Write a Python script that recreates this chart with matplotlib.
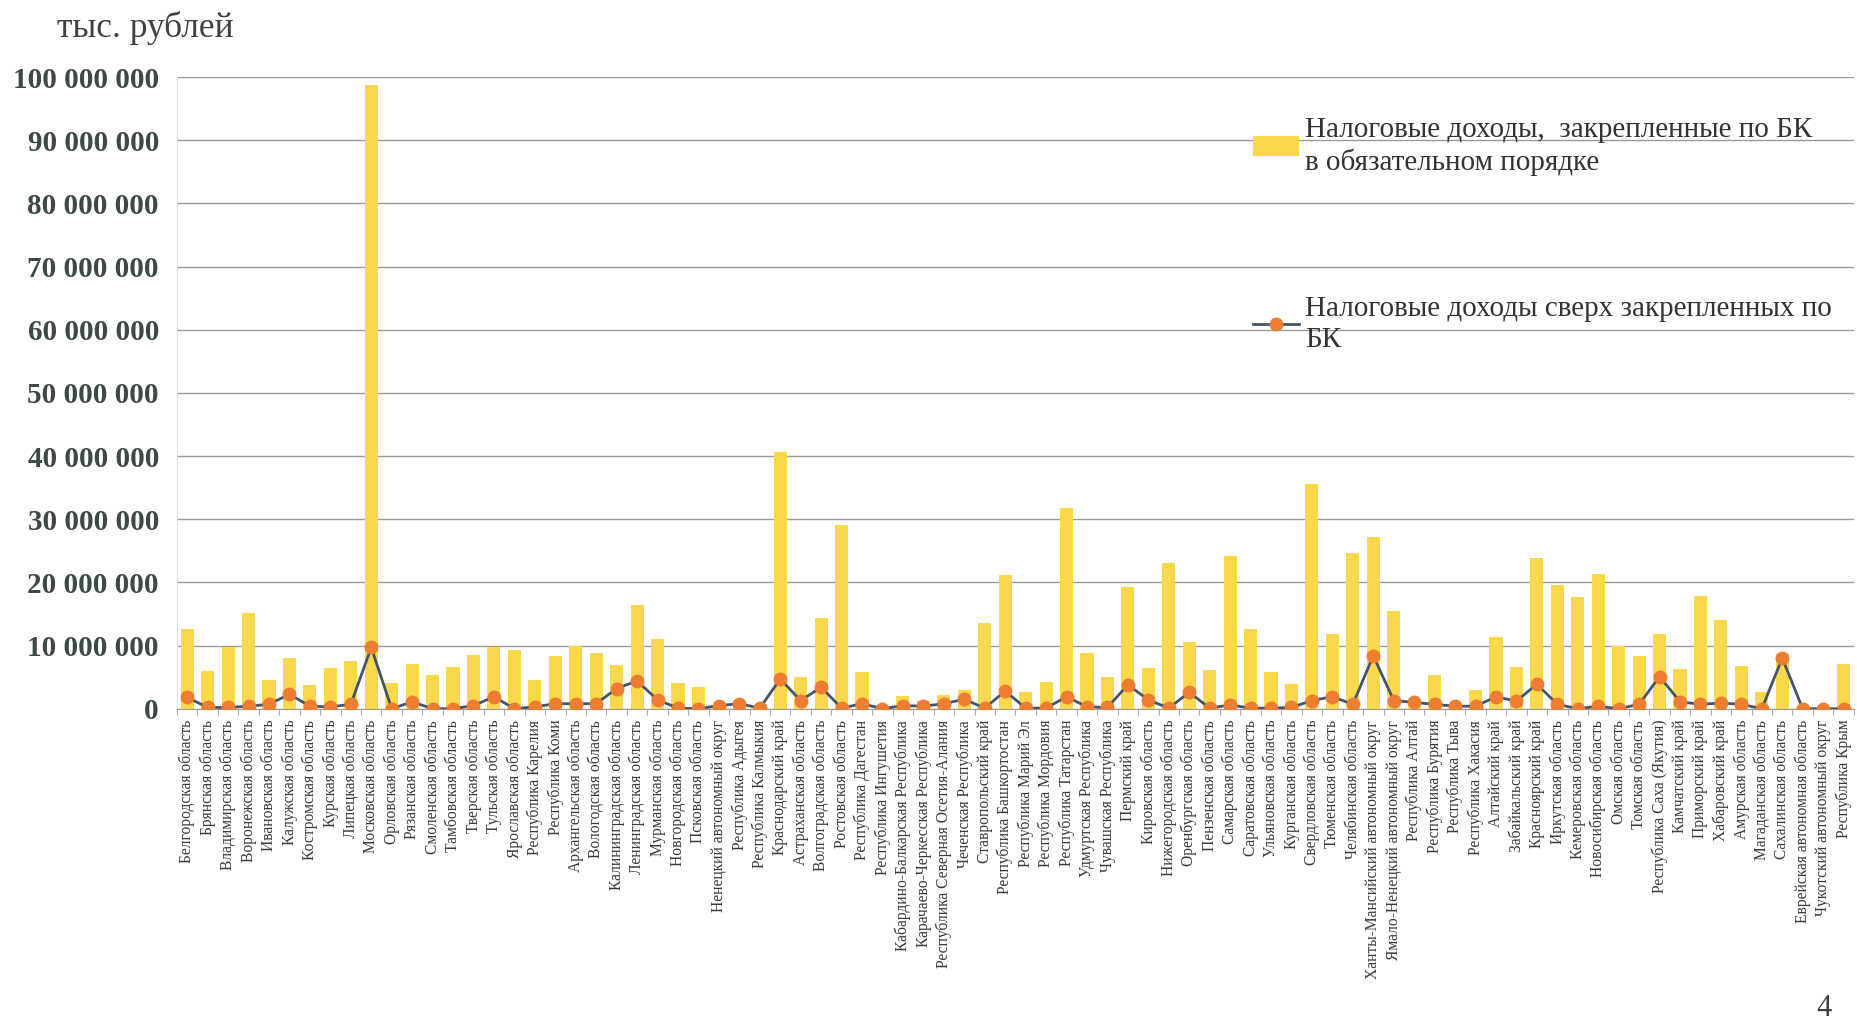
import matplotlib
matplotlib.use('Agg')
import matplotlib.pyplot as plt
from matplotlib.ticker import FuncFormatter, FixedLocator
import numpy as np

regions = [
    'Белгородская область', 'Брянская область', 'Владимирская область', 'Воронежская область',
    'Ивановская область', 'Калужская область', 'Костромская область', 'Курская область',
    'Липецкая область', 'Московская область', 'Орловская область', 'Рязанская область',
    'Смоленская область', 'Тамбовская область', 'Тверская область', 'Тульская область',
    'Ярославская область', 'Республика Карелия', 'Республика Коми', 'Архангельская область',
    'Вологодская область', 'Калининградская область', 'Ленинградская область', 'Мурманская область',
    'Новгородская область', 'Псковская область', 'Ненецкий автономный округ', 'Республика Адыгея',
    'Республика Калмыкия', 'Краснодарский край', 'Астраханская область', 'Волгоградская область',
    'Ростовская область', 'Республика Дагестан', 'Республика Ингушетия',
    'Кабардино-Балкарская Республика', 'Карачаево-Черкесская Республика',
    'Республика Северная Осетия-Алания', 'Чеченская Республика', 'Ставропольский край',
    'Республика Башкортостан', 'Республика Марий Эл', 'Республика Мордовия', 'Республика Татарстан',
    'Удмуртская Республика', 'Чувашская Республика', 'Пермский край', 'Кировская область',
    'Нижегородская область', 'Оренбургская область', 'Пензенская область', 'Самарская область',
    'Саратовская область', 'Ульяновская область', 'Курганская область', 'Свердловская область',
    'Тюменская область', 'Челябинская область', 'Ханты-Мансийский автономный округ',
    'Ямало-Ненецкий автономный округ', 'Республика Алтай', 'Республика Бурятия', 'Республика Тыва',
    'Республика Хакасия', 'Алтайский край', 'Забайкальский край', 'Красноярский край',
    'Иркутская область', 'Кемеровская область', 'Новосибирская область', 'Омская область',
    'Томская область', 'Республика Саха (Якутия)', 'Камчатский край', 'Приморский край',
    'Хабаровский край', 'Амурская область', 'Магаданская область', 'Сахалинская область',
    'Еврейская автономная область', 'Чукотский автономный округ', 'Республика Крым',
]

# млн руб. (переводятся в тыс. рублей ниже)
fixed_taxes = [
    12.6, 5.9, 9.8, 15.1, 4.6, 8.1, 3.7, 6.5, 7.6, 98.8,
    4.0, 7.1, 5.3, 6.6, 8.5, 9.8, 9.3, 4.5, 8.3, 9.9,
    8.9, 7.0, 16.5, 11.1, 4.1, 3.5, 0.4, 1.1, 0.4, 40.6,
    5.1, 14.4, 29.1, 5.8, 0.4, 2.0, 1.3, 2.2, 2.9, 13.5,
    21.2, 2.7, 4.2, 31.8, 8.8, 5.1, 19.3, 6.4, 23.0, 10.6,
    6.1, 24.1, 12.6, 5.8, 3.9, 35.6, 11.9, 24.6, 27.2, 15.4,
    1.1, 5.4, 0.6, 2.9, 11.3, 6.6, 23.9, 19.6, 17.7, 21.4,
    9.9, 8.3, 11.8, 6.3, 17.9, 14.1, 6.8, 2.6, 8.6, 0.3,
    0.3, 7.1,
]
extra_taxes = [
    1.8, 0.2, 0.2, 0.4, 0.7, 2.3, 0.4, 0.3, 0.7, 9.7,
    0.0, 1.1, 0.0, 0.0, 0.5, 1.9, 0.0, 0.3, 0.8, 0.8,
    0.8, 3.2, 4.4, 1.4, 0.1, 0.0, 0.5, 0.8, 0.1, 4.7,
    1.3, 3.4, 0.1, 0.8, 0.0, 0.5, 0.4, 0.8, 1.5, 0.1,
    2.8, 0.1, 0.1, 1.9, 0.3, 0.2, 3.8, 1.4, 0.1, 2.6,
    0.1, 0.6, 0.1, 0.1, 0.2, 1.3, 1.9, 0.7, 8.4, 1.3,
    1.0, 0.7, 0.4, 0.4, 1.9, 1.2, 3.9, 0.7, 0.0, 0.4,
    0.0, 0.7, 5.1, 1.1, 0.7, 0.9, 0.7, 0.0, 8.0, 0.0,
    0.0, 0.0,
]

fixed_k = np.array(fixed_taxes) * 1e6
extra_k = np.array(extra_taxes) * 1e6
x = np.arange(len(regions))

plt.rcParams['font.family'] = ['Liberation Serif', 'DejaVu Serif']

fig = plt.figure(figsize=(18.57, 10.23), dpi=100)
ax = fig.add_axes([0.0953, 0.3072, 0.9030, 0.6175])

bars = ax.bar(x, fixed_k, width=0.64, color='#FAD84C', zorder=2)
line, = ax.plot(x, extra_k, color='#44546A', linewidth=2.0, marker='o', markersize=9,
                markerfacecolor='#ED7D31', markeredgecolor='#ED7D31', zorder=3)

ax.set_xlim(-0.5, len(regions) - 0.5)
ax.set_ylim(0, 100e6)
ax.set_yticks(np.arange(0, 100e6 + 1, 10e6))
ax.yaxis.set_major_formatter(FuncFormatter(lambda v, p: f'{int(round(v)):,}'.replace(',', ' ')))
ax.grid(axis='y', color='#9a9a9a', linewidth=1.0, zorder=0)

for s in ['top', 'right']:
    ax.spines[s].set_visible(False)
ax.spines['left'].set_color('#e0e0e0')
ax.spines['bottom'].set_color('#9a9a9a')

ax.tick_params(axis='y', length=0, pad=13, labelsize=21, labelcolor='#3d4a44')
for t in ax.get_yticklabels():
    t.set_fontweight('bold')

ax.set_xticks(x)
ax.set_xticklabels(regions, rotation=90, fontsize=11.2, color='#3a3a3a')
ax.tick_params(axis='x', length=0, pad=8)
ax.xaxis.set_minor_locator(FixedLocator(np.arange(-0.5, len(regions), 1.0)))
ax.tick_params(axis='x', which='minor', length=4, color='#9a9a9a')

ax.text(-0.0716, 1.077, 'тыс. рублей', transform=ax.transAxes, fontsize=25.5,
        color='#404040', ha='left', va='center')

leg1 = ax.legend([bars], ['Налоговые доходы,  закрепленные по БК\nв обязательном порядке'],
                 loc='upper left', bbox_to_anchor=(0.6327, 0.960), borderpad=0,
                 frameon=False, fontsize=21, handlelength=1.6, handletextpad=0.2)
ax.add_artist(leg1)
leg2 = ax.legend([line], ['Налоговые доходы сверх закрепленных по\nБК'],
                 loc='upper left', bbox_to_anchor=(0.6327, 0.677), borderpad=0,
                 frameon=False, fontsize=21, handlelength=1.6, handletextpad=0.2)
for leg in (leg1, leg2):
    for t in leg.get_texts():
        t.set_linespacing(1.25)
        t.set_color('#333333')

fig.text(0.982, 0.0, '4', fontsize=22, color='#404040', ha='center', va='bottom')

fig.savefig('out.png', dpi=100, facecolor='white')
